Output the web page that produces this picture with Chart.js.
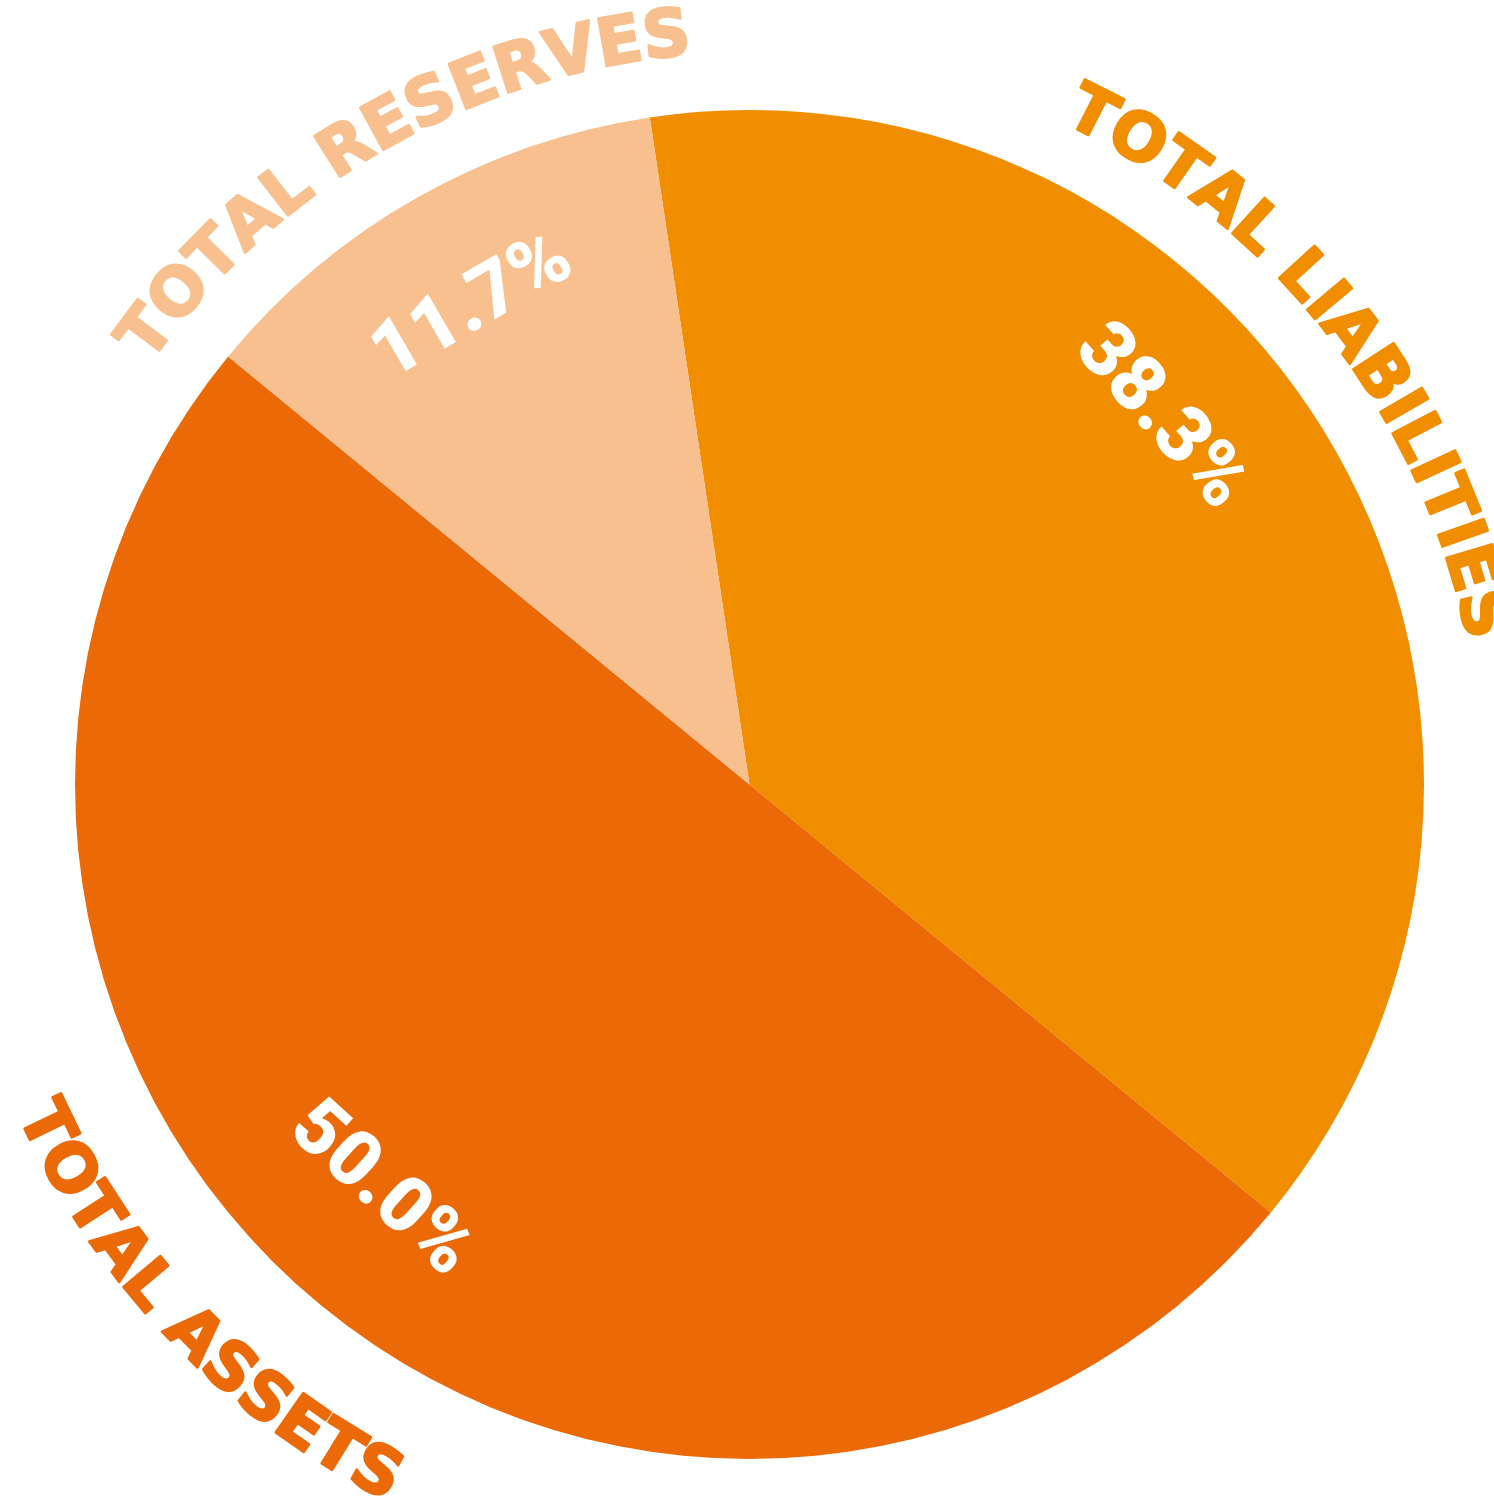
<!DOCTYPE html>
<html lang="en">
  <head>
    <meta charset="UTF-8" />
    <script src="https://cdn.jsdelivr.net/npm/chart.js@4.4.1/dist/chart.umd.min.js"></script>
    <title>Balance</title>
    <style>
      html, body { margin: 0; padding: 0; background: #fff; }
      #box { width: 1494px; height: 1496px; }
    </style>
  </head>
  <body>
    <div id="box"><canvas id="pie" width="1494" height="1496"></canvas></div>

    <script>
      // values
      const labels = ["Total Liabilities", "Total Assets", "Total Reserves"];
      const shares = [38.3, 50.0, 11.7];
      const colors = ["#F18E00", "#EB6A07", "#F9C08F"];

      // hand placement of the texts, degrees away from the slice middle
      const nameShift = [-8.4, 6.9, -0.15];
      const pctShift = [-12.2, 2.9, -0.6];

      function arcText(ctx, text, cx, cy, r, mid, flip) {
        const ws = [...text].map((ch) => ctx.measureText(ch).width);
        const total = ws.reduce((a, b) => a + b, 0);
        let acc = 0;
        const start = flip ? mid + total / 2 / r : mid - total / 2 / r;
        [...text].forEach((ch, i) => {
          const off = (acc + ws[i] / 2) / r;
          const a = flip ? start - off : start + off;
          ctx.save();
          ctx.translate(cx + r * Math.cos(a), cy + r * Math.sin(a));
          ctx.rotate(flip ? a - Math.PI / 2 : a + Math.PI / 2);
          ctx.strokeText(ch, 0, 0);
          ctx.fillText(ch, 0, 0);
          ctx.restore();
          acc += ws[i];
        });
      }

      const labelPlugin = {
        id: "labelPlugin",
        afterDatasetsDraw(chart) {
          const ctx = chart.ctx;
          const meta = chart.getDatasetMeta(0);
          const rad = Math.PI / 180;
          meta.data.forEach((arc, i) => {
            const { x, y, startAngle, endAngle, outerRadius } = arc;
            const mid = (startAngle + endAngle) / 2;

            // name around the rim
            const a1 = mid + nameShift[i] * rad;
            const flip = Math.sin(a1) > 0;
            ctx.save();
            ctx.fillStyle = colors[i];
            ctx.strokeStyle = colors[i];
            ctx.lineWidth = 2.5;
            ctx.lineJoin = "round";
            ctx.font = "bold 66px 'DejaVu Sans'";
            ctx.textAlign = "center";
            ctx.textBaseline = "alphabetic";
            arcText(ctx, labels[i].toUpperCase(), x, y,
              flip ? outerRadius + 128 : outerRadius + 58, a1, flip);
            ctx.restore();

            // share inside the slice
            const a2 = mid + pctShift[i] * rad;
            const r2 = outerRadius * 0.815;
            ctx.save();
            ctx.translate(x + r2 * Math.cos(a2), y + r2 * Math.sin(a2));
            ctx.rotate(Math.sin(a2) > 0 ? a2 - Math.PI / 2 : a2 + Math.PI / 2);
            ctx.fillStyle = "#ffffff";
            ctx.font = "900 78px Roboto";
            ctx.textAlign = "center";
            ctx.textBaseline = "middle";
            ctx.fillText(shares[i].toFixed(1) + "%", 0, 0);
            ctx.restore();
          });
        },
      };

      new Chart(document.getElementById("pie"), {
        type: "pie",
        data: {
          labels: labels,
          datasets: [
            {
              data: shares,
              backgroundColor: colors,
              borderWidth: 0,
            },
          ],
        },
        options: {
          responsive: false,
          animation: false,
          rotation: -8.5,
          layout: { padding: { left: 75, right: 70, top: 110, bottom: 37 } },
          plugins: { legend: { display: false }, tooltip: { enabled: false } },
        },
        plugins: [labelPlugin],
      });
    </script>
  </body>
</html>
